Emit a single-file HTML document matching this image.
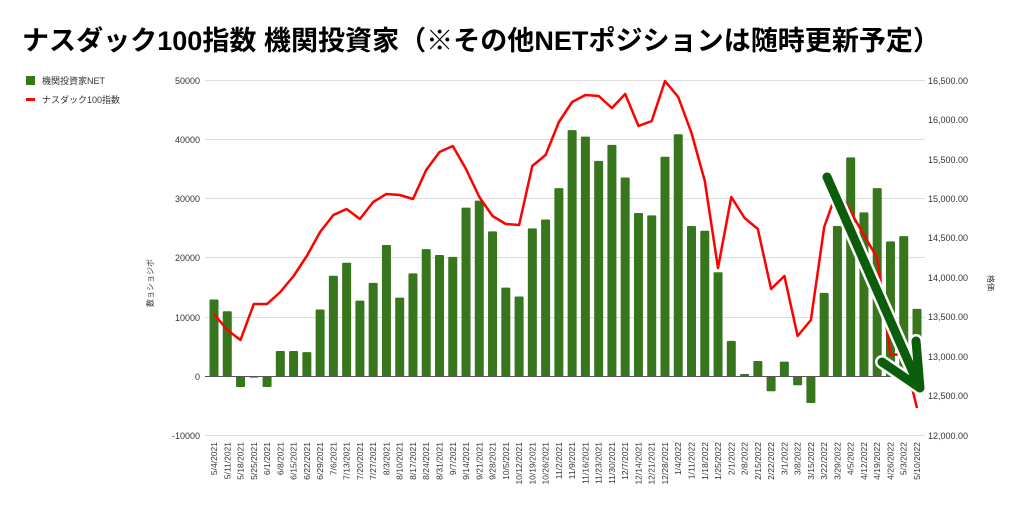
<!DOCTYPE html><html><head><meta charset="utf-8"><style>body{margin:0;background:#fff;width:1024px;height:515px;overflow:hidden}svg{font-family:"Liberation Sans","Noto Sans CJK JP",sans-serif}</style></head><body>
<svg width="1024" height="515" viewBox="0 0 1024 515">
<text x="22" y="50" font-size="27" font-weight="bold" fill="#000" textLength="918" lengthAdjust="spacingAndGlyphs">ナスダック100指数 機関投資家（※その他NETポジションは随時更新予定）</text>
<rect x="26" y="76" width="9" height="9" fill="#38761d"/>
<text x="42" y="84" font-size="9" fill="#333">機関投資家NET</text>
<rect x="26" y="98" width="9" height="3" fill="#f00"/>
<text x="42" y="103" font-size="9" fill="#333">ナスダック100指数</text>
<g stroke="#ddd" stroke-width="1">
<line x1="205" x2="925" y1="80.5" y2="80.5"/><line x1="205" x2="925" y1="139.5" y2="139.5"/><line x1="205" x2="925" y1="198.5" y2="198.5"/><line x1="205" x2="925" y1="257.5" y2="257.5"/><line x1="205" x2="925" y1="317.5" y2="317.5"/><line x1="205" x2="925" y1="435.5" y2="435.5"/>
</g>
<g font-size="9" fill="#333" text-anchor="end">
<text x="200" y="84">50000</text><text x="200" y="143">40000</text><text x="200" y="202">30000</text><text x="200" y="261">20000</text><text x="200" y="321">10000</text><text x="200" y="380">0</text><text x="200" y="439">-10000</text>
</g>
<g font-size="9" fill="#333">
<text x="928" y="84">16,500.00</text><text x="928" y="123">16,000.00</text><text x="928" y="163">15,500.00</text><text x="928" y="202">15,000.00</text><text x="928" y="241">14,500.00</text><text x="928" y="281">14,000.00</text><text x="928" y="320">13,500.00</text><text x="928" y="360">13,000.00</text><text x="928" y="399">12,500.00</text><text x="928" y="439">12,000.00</text>
</g>
<text transform="translate(153,283) rotate(-90)" font-size="8" fill="#333" text-anchor="middle">数ョショジボ</text>
<text transform="translate(988,283) rotate(90)" font-size="8" fill="#333" text-anchor="middle">格価</text>
<g id="bars" fill="#38761d"></g>
<line x1="205" x2="925" y1="376.5" y2="376.5" stroke="#555" stroke-width="1"/>
<polyline id="ln" fill="none" stroke="#f00" stroke-width="2.5" stroke-linejoin="round"/>
<g id="dates" font-size="8.5" fill="#333"></g>
<g stroke-linecap="round" stroke-linejoin="round" fill="none">
<path d="M827,177 L920,388 M882,362 L920,388 L916,341" stroke="#fff" stroke-width="14"/>
<path d="M827,177 L920,388 M882,362 L920,388 L916,341" stroke="#0b5d0b" stroke-width="9"/>
</g>
</svg>
<script>
var d=["5/4/2021","5/11/2021","5/18/2021","5/25/2021","6/1/2021","6/8/2021","6/15/2021","6/22/2021","6/29/2021","7/6/2021","7/13/2021","7/20/2021","7/27/2021","8/3/2021","8/10/2021","8/17/2021","8/24/2021","8/31/2021","9/7/2021","9/14/2021","9/21/2021","9/28/2021","10/5/2021","10/12/2021","10/19/2021","10/26/2021","11/2/2021","11/9/2021","11/16/2021","11/23/2021","11/30/2021","12/7/2021","12/14/2021","12/21/2021","12/28/2021","1/4/2022","1/11/2022","1/18/2022","1/25/2022","2/1/2022","2/8/2022","2/15/2022","2/22/2022","3/1/2022","3/8/2022","3/15/2022","3/22/2022","3/29/2022","4/5/2022","4/12/2022","4/19/2022","4/26/2022","5/3/2022","5/10/2022"];
var v=[13000,11000,-1800,-200,-1800,4300,4300,4100,11300,17000,19200,12800,15800,22200,13300,17400,21500,20500,20200,28500,29700,24500,15000,13500,25000,26500,31800,41600,40500,36400,39100,33600,27600,27200,37100,40900,25400,24600,17600,6000,400,2600,-2500,2500,-1500,-4500,14100,25400,37000,27700,31800,22800,23700,11400];
var ly=[314,330,340,304,304,292,276,256,232,215,209,219,202,194,195,199,170,152,146,169,197,216,224,225,166,155,122,102,95,96,108,94,126,121,81,97,133,181,268,197,218,229,289,276,336,320,227,190,212,235,258,355,354,408];
var n=d.length,x0=214,sp=(917-214)/(n-1),ns="http://www.w3.org/2000/svg",b=document.getElementById("bars"),dt=document.getElementById("dates"),pts=[];
for(var i=0;i<n;i++){var x=x0+i*sp,y=376.4-v[i]/10000*59.2,r=document.createElementNS(ns,"rect");r.setAttribute("x",x-4.5);r.setAttribute("width",9);r.setAttribute("y",Math.min(y,376.4));r.setAttribute("height",Math.abs(376.4-y));r.setAttribute("rx",1);b.appendChild(r);
var t=document.createElementNS(ns,"text");t.setAttribute("transform","translate("+(x+3)+",442) rotate(-90)");t.setAttribute("text-anchor","end");t.textContent=d[i];dt.appendChild(t);pts.push(x.toFixed(1)+","+ly[i]);}
document.getElementById("ln").setAttribute("points",pts.join(" "));
</script>
</body></html>
